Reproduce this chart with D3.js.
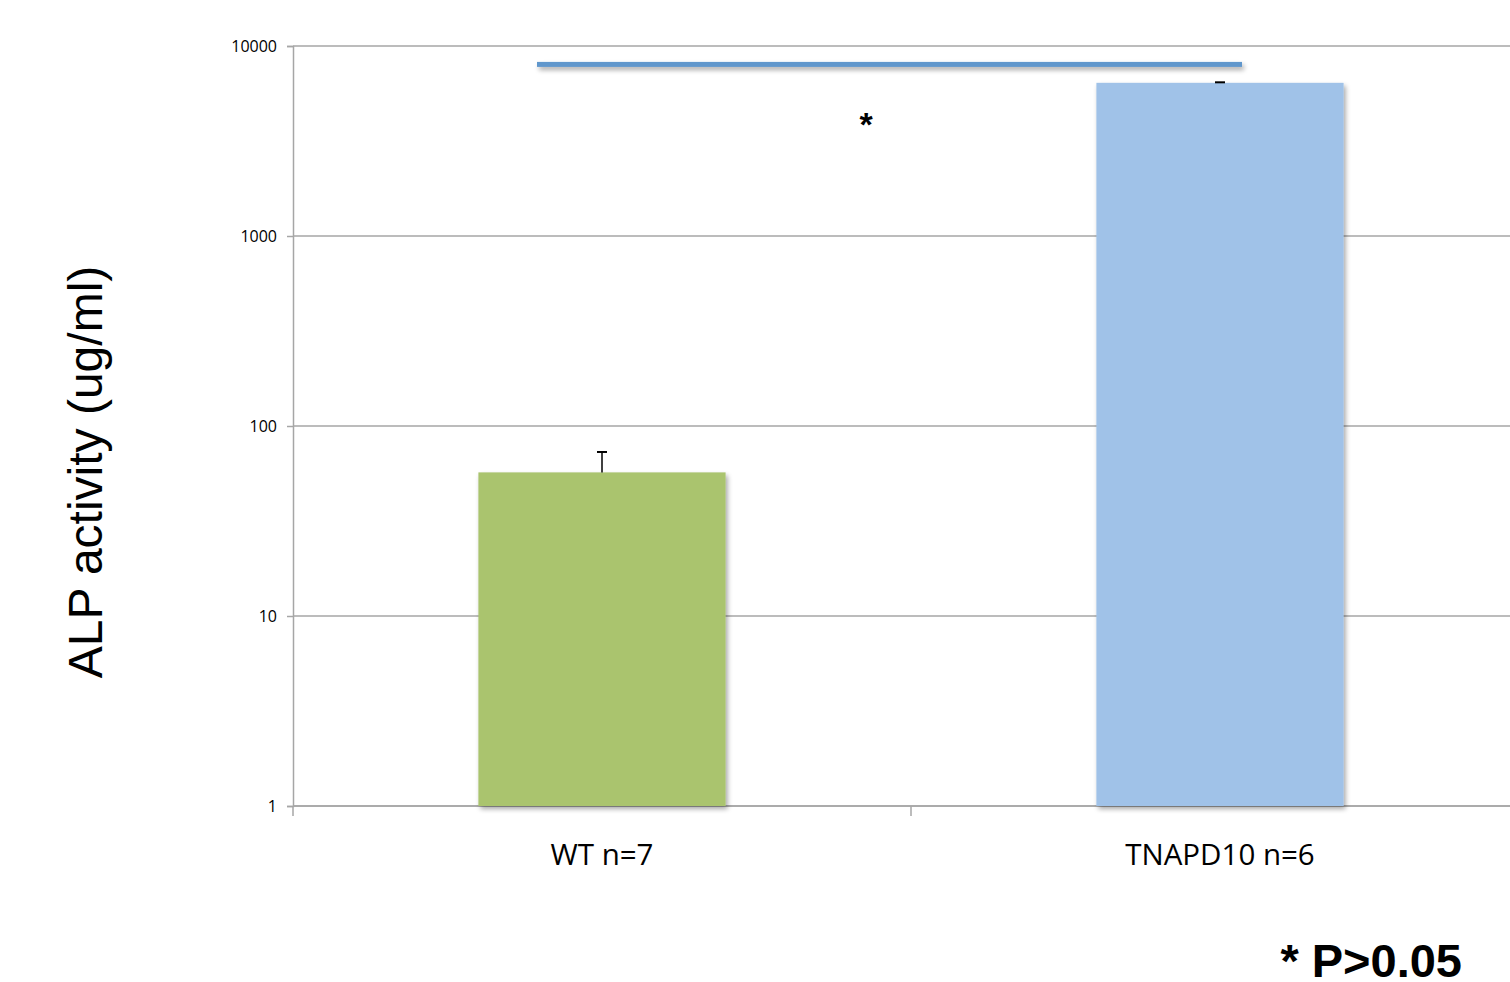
<!DOCTYPE html>
<html>
<head>
<meta charset="utf-8">
<script src="https://cdn.jsdelivr.net/npm/d3@7"></script>
<style>
  body { margin: 0; background: #fff; }
  svg { display: block; }
</style>
</head>
<body>
<div id="chart"></div>
<script>
// data
const categories = ["WT n=7", "TNAPD10 n=6"];
const means = [57, 6400];
const errors = [16, 40];
const barColors = ["#aac46e", "#a0c2e8"];
const yTicks = [1, 10, 100, 1000, 10000];
const sigLevel = 8000;
const sigLabel = "*";
const noteText = "* P>0.05";

const W = 1510, H = 982;
const margin = { top: 46, right: 0, bottom: 176, left: 293 };
// the plot runs past the right edge of the window (third band edge is off-screen)
const plotW = 1236, plotH = H - margin.top - margin.bottom;

const svg = d3.select("#chart").append("svg")
  .attr("width", W).attr("height", H);

const defs = svg.append("defs");
const shadow = defs.append("filter").attr("id", "shadow")
  .attr("filterUnits", "userSpaceOnUse")
  .attr("x", 0).attr("y", 0).attr("width", W).attr("height", H);
shadow.append("feGaussianBlur").attr("in", "SourceAlpha").attr("stdDeviation", 2.5);
shadow.append("feOffset").attr("dx", 2).attr("dy", 3).attr("result", "ob");
shadow.append("feComponentTransfer").append("feFuncA").attr("type", "linear").attr("slope", 0.35);
const merge = shadow.append("feMerge");
merge.append("feMergeNode");
merge.append("feMergeNode").attr("in", "SourceGraphic");

const g = svg.append("g").attr("transform", `translate(${margin.left},${margin.top})`);

const x = d3.scaleBand().domain(categories).range([0, plotW]).paddingInner(0).paddingOuter(0);
const y = d3.scaleLog().domain([1, 10000]).range([plotH, 0]);

// grid lines
g.append("g").selectAll("line").data(yTicks).enter().append("line")
  .attr("x1", 0).attr("x2", plotW)
  .attr("y1", d => y(d)).attr("y2", d => y(d))
  .attr("stroke", "#a6a6a6").attr("stroke-width", 1.5);

// y axis
const yAxis = g.append("g")
  .call(d3.axisLeft(y).tickValues(yTicks).tickFormat(d3.format("d")).tickSize(6).tickPadding(10));
yAxis.select(".domain").attr("stroke", "#a6a6a6").attr("stroke-width", 1.5);
yAxis.selectAll(".tick line").attr("stroke", "#a6a6a6").attr("stroke-width", 1.5);
yAxis.selectAll(".tick text").attr("font-family", "'Open Sans', sans-serif")
  .attr("font-size", 16).attr("fill", "#000");

// x axis line with ticks at band edges
const xg = g.append("g").attr("transform", `translate(0,${plotH})`);
xg.append("line").attr("x1", 0).attr("x2", plotW).attr("stroke", "#a6a6a6").attr("stroke-width", 1.5);
const edges = [0].concat(categories.map(c => x(c) + x.bandwidth()));
xg.selectAll("line.tk").data(edges).enter().append("line").attr("class", "tk")
  .attr("x1", d => d).attr("x2", d => d).attr("y1", 0).attr("y2", 10)
  .attr("stroke", "#a6a6a6").attr("stroke-width", 1.5);
xg.selectAll("text").data(categories).enter().append("text")
  .attr("x", d => x(d) + x.bandwidth() / 2).attr("y", 59)
  .attr("text-anchor", "middle")
  .attr("font-family", "'Open Sans', sans-serif").attr("font-size", 29.5)
  .text(d => d);

// bars
const barW = x.bandwidth() * 0.4;
const rows = categories.map((c, i) => ({ cat: c, mean: means[i], err: errors[i], color: barColors[i] }));

g.selectAll("rect.bar").data(rows).enter().append("rect").attr("class", "bar")
  .attr("x", d => x(d.cat) + (x.bandwidth() - barW) / 2)
  .attr("y", d => y(d.mean))
  .attr("width", barW)
  .attr("height", d => plotH - y(d.mean))
  .attr("fill", d => d.color)
  .attr("filter", "url(#shadow)");

// error bars (upper only)
const eb = g.selectAll("g.err").data(rows).enter().append("g").attr("class", "err");
eb.append("line")
  .attr("x1", d => x(d.cat) + x.bandwidth() / 2).attr("x2", d => x(d.cat) + x.bandwidth() / 2)
  .attr("y1", d => y(d.mean)).attr("y2", d => y(d.mean + d.err))
  .attr("stroke", "#000").attr("stroke-width", 1.5);
eb.append("line")
  .attr("x1", d => x(d.cat) + x.bandwidth() / 2 - 5).attr("x2", d => x(d.cat) + x.bandwidth() / 2 + 5)
  .attr("y1", d => y(d.mean + d.err)).attr("y2", d => y(d.mean + d.err))
  .attr("stroke", "#000").attr("stroke-width", 2);

// significance bar, drawn as a thin rect so the shadow filter has an area
const sigX1 = x(categories[0]) + x.bandwidth() / 2 - 65;
const sigX2 = x(categories[1]) + x.bandwidth() / 2 + 22;
g.append("rect")
  .attr("x", sigX1).attr("y", y(sigLevel) - 2.5)
  .attr("width", sigX2 - sigX1).attr("height", 5)
  .attr("fill", "#6197cc")
  .attr("filter", "url(#shadow)");
g.append("text")
  .attr("x", x.bandwidth() - 45).attr("y", y(sigLevel) + 72)
  .attr("text-anchor", "middle")
  .attr("font-family", "'Liberation Sans', Arial, sans-serif").attr("font-weight", "bold")
  .attr("font-size", 34).text(sigLabel);

// y title
svg.append("text")
  .attr("transform", `translate(102,472) rotate(-90)`)
  .attr("text-anchor", "middle")
  .attr("font-family", "'Liberation Sans', Arial, sans-serif")
  .attr("font-size", 48).text("ALP activity (ug/ml)");

// footnote
svg.append("text")
  .attr("x", 1462).attr("y", 977)
  .attr("text-anchor", "end")
  .attr("font-family", "'Liberation Sans', Arial, sans-serif").attr("font-weight", "bold")
  .attr("font-size", 47).text(noteText);
</script>
</body>
</html>
